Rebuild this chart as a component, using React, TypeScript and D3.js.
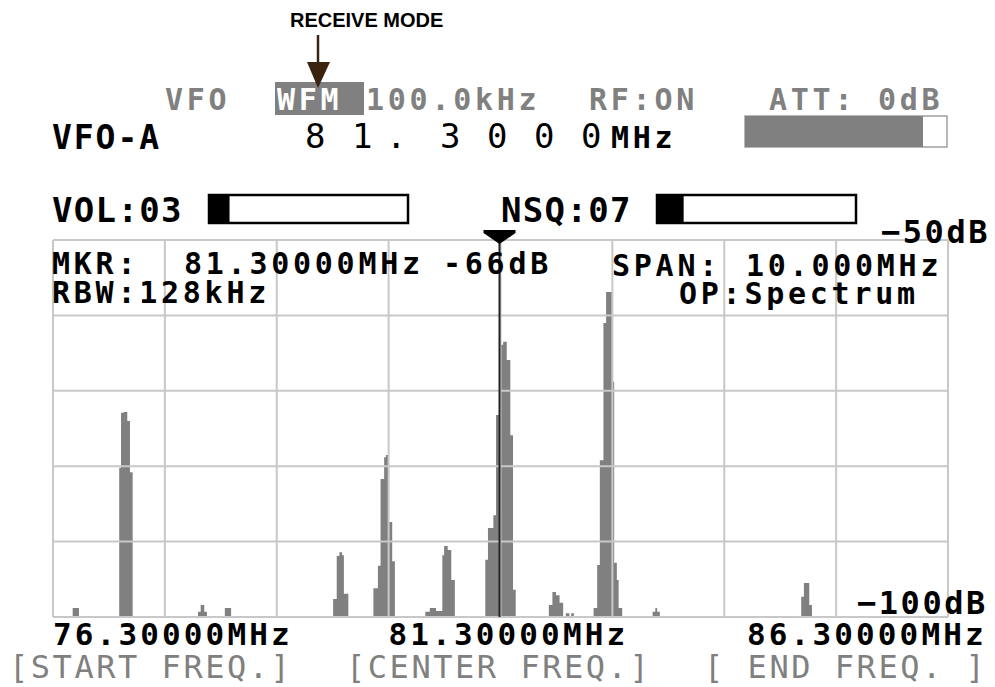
import React from "react";
import * as d3 from "d3";

// Spectrum trace: step points (frequency MHz, level dB); level holds until next point
const specFreq = [
  76.3, 76.52, 76.59, 77.04, 77.06, 77.09, 77.13, 77.16, 77.19, 77.92, 77.95, 77.99, 78.02,
  78.22, 78.29, 79.43, 79.47, 79.5, 79.53, 79.55, 79.6, 79.88, 79.93, 79.96, 80.0, 80.02,
  80.05, 80.09, 80.12, 80.46, 80.51, 80.58, 80.65, 80.67, 80.71, 80.75, 80.79, 81.13, 81.16,
  81.22, 81.25, 81.29, 81.33, 81.37, 81.41, 81.44, 81.47, 81.84, 81.88, 81.92, 81.96, 82.0,
  82.03, 82.07, 82.09, 82.12, 82.34, 82.38, 82.41, 82.45, 82.48, 82.55, 82.57, 82.6, 82.62,
  82.66, 83.0, 83.03, 83.05, 83.08, 84.66, 84.69, 84.75, 84.78, 86.3,
];
const specLevel = [
  -100, -98.8, -100, -80.2, -72.9, -72.8, -74.0, -80.8, -100, -99.3, -98.4, -99.3, -100,
  -98.8, -100, -97.6, -91.9, -91.4, -91.8, -96.9, -100, -96.2, -93.2, -81.7, -78.8, -78.5,
  -87.4, -92.6, -100, -99.3, -98.8, -99.2, -91.8, -90.6, -91.1, -95.1, -100, -92.4, -88.2,
  -86.5, -73.2, -63.9, -63.5, -65.9, -75.9, -96.4, -100, -98.4, -96.7, -97.1, -98.1, -100,
  -99.5, -100, -99.5, -100, -98.8, -93.1, -79.2, -61.0, -56.9, -68.8, -92.8, -95.1, -98.8,
  -100, -99.3, -98.8, -99.3, -100, -97.3, -95.5, -98.4, -100, -100,
];

const startFreq = 76.3;
const centerFreq = 81.3;
const endFreq = 86.3;
const refLevel = -50;
const bottomLevel = -100;
const xDivisions = 8;
const yDivisions = 5;
const markerFreq = 81.3;

const bottomFreqLabels = ["76.30000MHz", "81.30000MHz", "86.30000MHz"];
const bottomRoleLabels = ["[START FREQ.]", "[CENTER FREQ.]", "[ END FREQ. ]"];
const bigFreqChars = ["8", "1", ".", "3", "0", "0", "0"];

const volLevel = 3;
const nsqLevel = 7;
const barMax = 28;

const MONO = "'DejaVu Sans Mono', monospace";
const GRAY = "#808080";
const GRID = "#c8c8c8";
const ADV = 21.8;

type TProps = {
  x: number;
  y: number;
  t: string;
  size: number;
  bold?: boolean;
  fill?: string;
  adv?: number;
};

function T({ x, y, t, size, bold = true, fill = "#000", adv = ADV }: TProps) {
  const n = t.length;
  const len = adv * (n - 1) + 0.602 * size;
  return (
    <text
      x={x}
      y={y}
      textLength={len}
      lengthAdjust="spacing"
      style={{ fontFamily: MONO, fontWeight: bold ? 700 : 400, fontSize: size }}
      fill={fill}
    >
      {t}
    </text>
  );
}

export default function App() {
  const W = 995;
  const H = 687;
  const left = 53;
  const right = 948;
  const top = 240;
  const bottom = 617;

  const x = d3.scaleLinear().domain([startFreq, endFreq]).range([left, right]);
  const y = d3.scaleLinear().domain([bottomLevel, refLevel]).range([bottom, top]);

  const pts = specFreq.map((f, i) => [f, specLevel[i]] as [number, number]);
  const area = d3
    .area<[number, number]>()
    .x((d) => x(d[0]))
    .y0(y(bottomLevel))
    .y1((d) => y(d[1]))
    .curve(d3.curveStepAfter);

  const xGrid = d3.range(xDivisions + 1).map((i) => startFreq + (i * (endFreq - startFreq)) / xDivisions);
  const yGrid = d3.range(yDivisions + 1).map((i) => bottomLevel + (i * (refLevel - bottomLevel)) / yDivisions);

  const barScale = d3.scaleLinear().domain([0, barMax]).range([0, 201]);
  const mx = x(markerFreq);
  const bigX = [305, 352, 386, 440, 487, 534, 581];

  return (
    <svg
      width={W}
      height={H}
      style={{ position: "absolute", left: 0, top: 0, background: "#fff" }}
    >
      <rect x={0} y={0} width={W} height={H} fill="#fff" />

      {/* annotation */}
      <text x={290} y={27} style={{ fontFamily: "'Liberation Sans', Arial, sans-serif", fontWeight: 700, fontSize: 20 }} fill="#000">
        RECEIVE MODE
      </text>

      {/* top gray row */}
      <rect x={275} y={82} width={89} height={33} fill={GRAY} />
      <T x={165} y={110} t="VFO" size={30} fill={GRAY} />
      <T x={277} y={110} t="WFM" size={30} fill="#fff" />
      <T x={366} y={110} t="100.0kHz" size={30} fill={GRAY} />
      <T x={589} y={110} t="RF:ON" size={30} fill={GRAY} />
      <T x={769} y={110} t="ATT: 0dB" size={30} fill={GRAY} />

      {/* arrow */}
      <line x1={318} y1={35} x2={318} y2={70} stroke="#3a2410" strokeWidth={2.5} />
      <polygon points="307,62 330,62 318,88" fill="#3a2410" />

      {/* VFO-A row */}
      <T x={52} y={149} t="VFO-A" size={33} />
      {bigFreqChars.map((c, i) => (
        <text key={"bc" + i} x={bigX[i]} y={148} style={{ fontFamily: MONO, fontWeight: 400, fontSize: 34 }} fill="#000">
          {c}
        </text>
      ))}
      <T x={611} y={148} t="MHz" size={30} />

      {/* ATT bar */}
      <rect x={745} y={116} width={202} height={31} fill="#fff" stroke="#a0a0a0" strokeWidth={1.5} />
      <rect x={745} y={116} width={178} height={31} fill={GRAY} />

      {/* VOL / NSQ */}
      <T x={52} y={222} t="VOL:03" size={34} />
      <rect x={209} y={195} width={199} height={28} fill="#fff" stroke="#000" strokeWidth={2.5} />
      <rect x={208} y={194} width={barScale(volLevel)} height={30} fill="#000" />

      <T x={501} y={222} t="NSQ:07" size={34} />
      <rect x={657} y={195} width={199} height={28} fill="#fff" stroke="#000" strokeWidth={2.5} />
      <rect x={656} y={194} width={barScale(nsqLevel) * 0.55} height={30} fill="#000" />

      {/* spectrum */}
      <path d={area(pts) || ""} fill={GRAY} />

      {/* grid */}
      {xGrid.map((f, i) => (
        <line key={"gx" + i} x1={x(f)} x2={x(f)} y1={top} y2={bottom} stroke={GRID} strokeWidth={2} />
      ))}
      {yGrid.map((v, i) => (
        <line key={"gy" + i} x1={left} x2={right} y1={y(v)} y2={y(v)} stroke={GRID} strokeWidth={2} />
      ))}

      {/* marker */}
      <line x1={mx - 1} x2={mx - 1} y1={232} y2={bottom} stroke="#222" strokeWidth={2} />
      <polygon points={`${mx - 17},230 ${mx + 15},230 ${mx + 15},233 ${mx - 1},244 ${mx - 17},233`} fill="#000" />

      {/* level labels */}
      <T x={881} y={243} t="−50dB" size={32} />
      <T x={857} y={614} t="−100dB" size={32} />

      {/* info text */}
      <T x={52} y={274} t="MKR:" size={30} />
      <T x={184} y={274} t="81.30000MHz" size={30} />
      <T x={443} y={274} t="-66dB" size={30} />
      <T x={612} y={276} t="SPAN:" size={30} />
      <T x={746} y={276} t="10.000MHz" size={30} />
      <T x={52} y={303} t="RBW:128kHz" size={30} />
      <T x={679} y={304} t="OP:Spectrum" size={30} />

      {/* bottom labels */}
      {bottomFreqLabels.map((t, i) => (
        <T key={"bf" + i} x={[x(startFreq), x(centerFreq) - 112, x(endFreq) - 201][i]} y={645} t={t} size={31} />
      ))}
      {bottomRoleLabels.map((t, i) => (
        <T key={"br" + i} x={[9, 346, 704][i]} y={678} t={t} size={32} bold={false} fill={GRAY} />
      ))}
    </svg>
  );
}
